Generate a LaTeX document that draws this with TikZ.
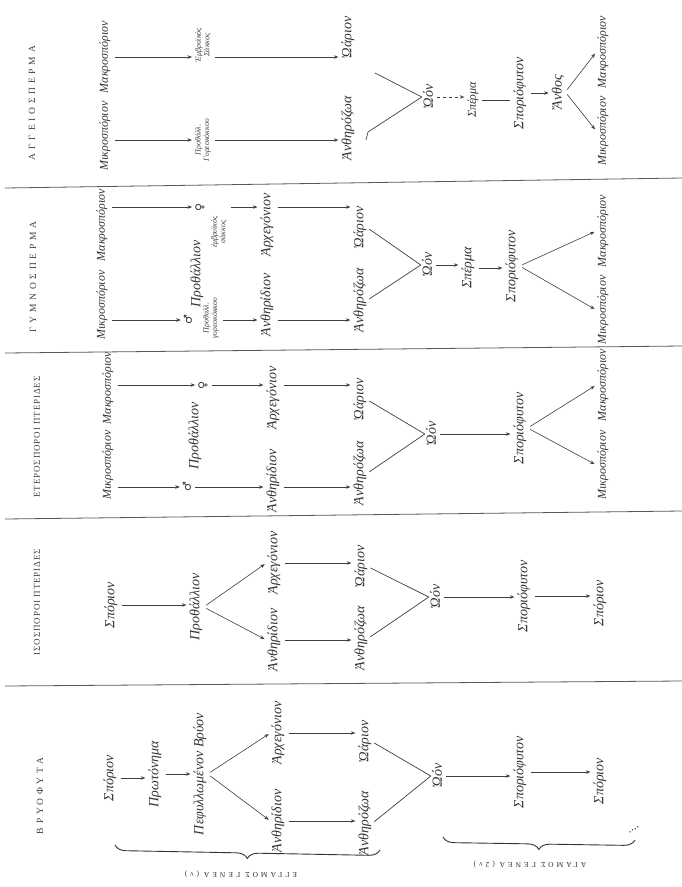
\documentclass[tikz,border=0pt]{standalone}
\usepackage{fontspec}
\setmainfont{Liberation Serif}
\newfontfamily\gk{Liberation Serif}
\newfontfamily\capsw[LetterSpace=40]{Liberation Serif}
\newfontfamily\capsn[LetterSpace=10]{Liberation Serif}
\newfontfamily\symf{DejaVu Sans}
\usetikzlibrary{arrows.meta,decorations.pathreplacing}
\begin{document}
\begin{tikzpicture}[x=1pt,y=-1pt,
  w/.style={rotate=90,inner sep=1pt,font=\gk\itshape\fontsize{14}{14}\selectfont,text=black!80},
  ws/.style={w,font=\gk\itshape\fontsize{12}{12}\selectfont},
  wt/.style={rotate=90,inner sep=1pt,align=center,font=\gk\itshape\fontsize{8}{8.5}\selectfont,text=black!75},
  title/.style={rotate=90,inner sep=1pt,font=\capsw\fontsize{9.5}{9.5}\selectfont,text=black!75},
  titlen/.style={title,font=\capsn\fontsize{9}{9}\selectfont},
  sx/.style={rotate=90,inner sep=1pt,font=\symf\fontsize{11}{11}\selectfont,text=black!80},
  arr/.style={draw=black!75,line width=0.6pt,-{Stealth[length=4.5pt,width=3.5pt]},shorten <=3pt,shorten >=2pt},
  ln/.style={draw=black!75,line width=0.7pt,shorten <=2pt},
  band/.style={draw=black!65,line width=0.8pt},
  brc/.style={draw=black!80,line width=0.9pt,decorate,decoration={brace,amplitude=11pt}},
  blab/.style={rotate=180,inner sep=1pt,font=\capsw\fontsize{7.5}{7.5}\selectfont,text=black!80},
]
\useasboundingbox[fill=white] (0,0) rectangle (682,887);

% band separators
\draw[band] (5,188) -- (682,178);
\draw[band] (5,353) -- (682,346);
\draw[band] (5,519) -- (682,511);
\draw[band] (5,686) -- (682,681);

% ===== ΒΡΥΟΦΥΤΑ =====
\node[title] (tB) at (40,796) {ΒΡΥΟΦΥΤΑ};
\node[w] (b1) at (110,778) {Σπόριον};
\node[w] (b2) at (155,774) {Πρωτόνημα};
\node[w] (b3) at (200,774) {Πεφυλλωμένον Βρύον};
\node[w] (b4a) at (278,733) {Ἀρχεγόνιον};
\node[w] (b4b) at (278,821) {Ἀνθηρίδιον};
\node[w] (b5a) at (365,742) {Ὠάριον};
\node[w] (b5b) at (365,823) {Ἀνθηρόζωα};
\node[w] (b6) at (437,776) {Ὠόν};
\node[w] (b7) at (520,772) {Σποριόφυτον};
\node[w] (b8) at (600,781) {Σπόριον};
\draw[arr] (b1.south) -- (b1.south -| b2.north);
\draw[arr] (b2.south) -- (b2.south -| b3.north);
\draw[arr] (b3.south) -- (b4a.north);
\draw[arr] (b3.south) -- (b4b.north);
\draw[arr] (b4a.south) -- (b4a.south -| b5a.north);
\draw[arr] (b4b.south) -- (b4b.south -| b5b.north);
\draw[ln] (b5a.south) -- (b6.north);
\draw[ln] (b5b.south) -- (b6.north);
\draw[arr] (b6.south) -- (b6.south -| b7.north);
\draw[arr] (b7.south) -- (b7.south -| b8.north);
\draw[brc] (380,850) -- (115,845);
\node[blab] (lB1) at (241,874) {ΕΓΓΑΜΟΣ ΓΕΝΕΑ (ν)};
\draw[brc] (635,840) -- (443,837);
\node[blab] (lB2) at (530,864) {ΑΓΑΜΟΣ ΓΕΝΕΑ (2ν)};
\node[rotate=30,inner sep=0pt,font=\fontsize{12}{12}\selectfont,text=black!80] (dots) at (634,830) {....};

% ===== ΙΣΟΣΠΟΡΟΙ ΠΤΕΡΙΔΕΣ =====
\node[titlen] (tI) at (37,602) {ΙΣΟΣΠΟΡΟΙ ΠΤΕΡΙΔΕΣ};
\node[w] (i1) at (111,605) {Σπόριον};
\node[w] (i2) at (196,607) {Προθάλλιον};
\node[w] (i3a) at (274,563) {Ἀρχεγόνιον};
\node[w] (i3b) at (274,640) {Ἀνθηρίδιον};
\node[w] (i4a) at (361,567) {Ὠάριον};
\node[w] (i4b) at (361,638) {Ἀνθηρόζωα};
\node[w] (i5) at (435,597) {Ὠόν};
\node[w] (i6) at (524,596) {Σποριόφυτον};
\node[w] (i7) at (600,603) {Σπόριον};
\draw[arr] (i1.south) -- (i1.south -| i2.north);
\draw[arr] (i2.south) -- (i3a.north);
\draw[arr] (i2.south) -- (i3b.north);
\draw[arr] (i3a.south) -- (i3a.south -| i4a.north);
\draw[arr] (i3b.south) -- (i3b.south -| i4b.north);
\draw[ln] (i4a.south) -- (i5.north);
\draw[ln] (i4b.south) -- (i5.north);
\draw[arr] (i5.south) -- (i5.south -| i6.north);
\draw[arr] (i6.south) -- (i6.south -| i7.north);

% ===== ΕΤΕΡΟΣΠΟΡΟΙ ΠΤΕΡΙΔΕΣ =====
\node[titlen] (tH) at (37,437) {ΕΤΕΡΟΣΠΟΡΟΙ ΠΤΕΡΙΔΕΣ};
\node[ws] (h1a) at (108,388) {Μακροσπόριον};
\node[ws] (h1b) at (108,465) {Μικροσπόριον};
\node[sx] (hf) at (203,385) {♀};
\node[sx] (hm) at (187,487) {♂};
\node[w] (h2) at (195,436) {Προθάλλιον};
\node[w] (h3a) at (273,398) {Ἀρχεγόνιον};
\node[w] (h3b) at (273,481) {Ἀνθηρίδιον};
\node[w] (h4a) at (360,400) {Ὠάριον};
\node[w] (h4b) at (360,473) {Ἀνθηρόζωα};
\node[w] (h5) at (431,434) {Ὠόν};
\node[w] (h6) at (520,428) {Σποριόφυτον};
\node[ws] (h7a) at (603,385) {Μακροσπόριον};
\node[ws] (h7b) at (603,465) {Μικροσπόριον};
\draw[arr] (h1a.south |- hf.center) -- (hf.north);
\draw[arr] (h1b.south |- hm.center) -- (hm.north);
\draw[arr] (hf.south) -- (hf.south -| h3a.north);
\draw[arr] (hm.south) -- (hm.south -| h3b.north);
\draw[arr] (h3a.south |- hf.center) -- (h4a.north |- hf.center);
\draw[arr] (h3b.south |- hm.center) -- (h4b.north |- hm.center);
\draw[ln] (h4a.south) -- (h5.north);
\draw[ln] (h4b.south) -- (h5.north);
\draw[arr] (h5.south) -- (h5.south -| h6.north);
\draw[arr] (h6.south) -- (h7a.north);
\draw[arr] (h6.south) -- (h7b.north);

% ===== ΓΥΜΝΟΣΠΕΡΜΑ =====
\node[title] (tG) at (33,277) {ΓΥΜΝΟΣΠΕΡΜΑ};
\node[ws] (g1a) at (102,225) {Μακροσπόριον};
\node[ws] (g1b) at (102,305) {Μικροσπόριον};
\node[sx] (gf) at (200,207) {♀};
\node[sx] (gm) at (188,320) {♂};
\node[w] (g2) at (197,274) {Προθάλλιον};
\node[wt] (gs1) at (211,318) {Προθαλλ.\\γυρεοκόκκου};
\node[wt] (gs2) at (219,232) {ἐμβρυϊκὸς\\σάκκος};
\node[w] (g3a) at (267,225) {Ἀρχεγόνιον};
\node[w] (g3b) at (267,305) {Ἀνθηρίδιον};
\node[w] (g4a) at (360,228) {Ὠάριον};
\node[w] (g4b) at (360,300) {Ἀνθηρόζωα};
\node[w] (g5) at (427,265) {Ὠόν};
\node[w] (g6) at (468,268) {Σπέρμα};
\node[w] (g7) at (512,266) {Σποριόφυτον};
\node[ws] (g8a) at (603,231) {Μακροσπόριον};
\node[ws] (g8b) at (603,310) {Μικροσπόριον};
\draw[arr] (g1a.south |- gf.center) -- (gf.north);
\draw[arr] (g1b.south |- gm.center) -- (gm.north);
\draw[arr] (gs2.south |- gf.center) -- (g3a.north |- gf.center);
\draw[arr] (gs1.south |- gm.center) -- (g3b.north |- gm.center);
\draw[arr] (g3a.south |- gf.center) -- (g4a.north |- gf.center);
\draw[arr] (g3b.south |- gm.center) -- (g4b.north |- gm.center);
\draw[ln] (g4a.south) -- (g5.north);
\draw[ln] (g4b.south) -- (g5.north);
\draw[arr] (g5.south) -- (g5.south -| g6.north);
\draw[arr] (g6.south) -- (g6.south -| g7.north);
\draw[arr] (g7.south) -- (g8a.north);
\draw[arr] (g7.south) -- (g8b.north);

% ===== ΑΓΓΕΙΟΣΠΕΡΜΑ =====
\node[title] (tA) at (32,103) {ΑΓΓΕΙΟΣΠΕΡΜΑ};
\node[ws] (a1a) at (105,57) {Μακροσπόριον};
\node[ws] (a1b) at (105,136) {Μικροσπόριον};
\node[wt] (a2a) at (203,45) {Ἐμβρυϊκὸς\\Σάκκος};
\node[wt] (a2b) at (203,140) {Προθάλλ.\\Γυρεοκόκκου};
\node[w] (a3a) at (348,38) {Ὠάριον};
\node[w] (a3b) at (348,128) {Ἀνθηρόζωα};
\node[w] (a4) at (428,97) {Ὠόν};
\node[ws] (a5) at (473,100) {Σπέρμα};
\node[w] (a6) at (520,93) {Σποριόφυτον};
\node[w] (a7) at (558,92) {Ἄνθος};
\node[ws] (a8a) at (603,52) {Μακροσπόριον};
\node[ws] (a8b) at (603,131) {Μικροσπόριον};
\coordinate (av1) at (373,72);
\coordinate (av2) at (368,132);
\draw[arr] (a1a.south) -- (a1a.south -| a2a.north);
\draw[arr] (a1b.south |- a2b.center) -- (a2b.north);
\draw[arr] (a2a.south |- a1a.center) -- (a3a.north |- a1a.center);
\draw[arr] (a2b.south) -- (a2b.south -| a3b.north);
\draw[ln] (av1) -- (a4.north);
\draw[ln,shorten <=0pt] (a4.north) -- (av2) -- ++(-2,8);
\draw[arr,dashed,line width=0.4pt] (a4.south) -- (a4.south -| a5.north);
\draw[ln,shorten >=2pt] (a5.south) -- (a5.south -| a6.north);
\draw[arr] (a6.south) -- (a6.south -| a7.north);
\draw[arr] (a7.south) -- (a8a.north);
\draw[arr] (a7.south) -- (a8b.north);
\end{tikzpicture}
\end{document}
